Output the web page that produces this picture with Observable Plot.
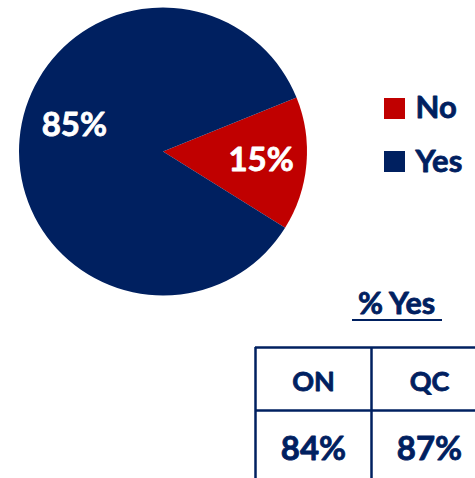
<!DOCTYPE html>
<html><head><meta charset="utf-8">
<script src="https://cdn.jsdelivr.net/npm/d3@7"></script>
<script src="https://cdn.jsdelivr.net/npm/@observablehq/plot@0.6"></script>
<style>html,body{margin:0;padding:0;background:#fff;overflow:hidden}</style>
</head><body><div id="chart"></div>
<script>
// ---- data ----
const categories = ["No", "Yes"];
const shares = [15, 85];
const sliceColors = ["#C00000", "#002060"];
const regions = ["ON", "QC"];
const regionYes = [84, 87];
const tableTitle = "% Yes";

// ---- layout / style ----
const W = 475, H = 478;
const navy = "#002060";
const font = "Lato, 'Open Sans', sans-serif";
const thick = 0.8;
const L = {
  cx: 163, cy: 151.5, r: 144, startDeg: 68,
  labelPos: [{ang: null, r: 98}, {ang: 286.6, r: 93}],
  legX: 384, legSize: 21, legY: [98, 151], legTextX: 415, legBase: [117, 171],
  titleX: 396, titleBase: 313, underY: 319.5, underX1: 352, underX2: 442,
  tabLeft: 255, colW: 116, tabTop: 347, tabMid: 410, tabRight: 475,
  headBase: 390, valBase: 459
};

const pieData = categories.map((c, i) => ({category: c, value: shares[i]}));
const toRad = d => d * Math.PI / 180;
const arcs = d3.pie().sort(null).value(d => d.value)
  .startAngle(toRad(L.startDeg)).endAngle(toRad(L.startDeg + 360))(pieData);

const labels = arcs.map((a, i) => {
  const p = L.labelPos[i];
  const ang = p.ang == null ? (a.startAngle + a.endAngle) / 2 : toRad(p.ang);
  return {text: `${a.data.value}%`, x: L.cx + p.r * Math.sin(ang), y: L.cy - p.r * Math.cos(ang)};
});

const wedges = (index, scales) => {
  const g = d3.create("svg:g");
  const cx = scales.x(L.cx), cy = scales.y(L.cy);
  const rr = scales.x(L.cx + L.r) - cx;
  const arc = d3.arc().innerRadius(0).outerRadius(rr);
  const col = scales.color || (c => sliceColors[categories.indexOf(c)]);
  g.selectAll("path").data(arcs).join("path")
    .attr("transform", `translate(${cx},${cy})`)
    .attr("d", arc)
    .attr("fill", d => col(d.data.category));
  return g.node();
};

const tableRows = regions.map((r, i) => ({region: r, value: regionYes[i], xc: L.tabLeft + L.colW * (i + 0.5)}));

const navyText = {fill: navy, stroke: navy, strokeWidth: thick, fontWeight: "bold"};

const chart = Plot.plot({
  width: W, height: H, margin: 0,
  style: {fontFamily: font, background: "#fff"},
  x: {domain: [0, W], range: [0, W], axis: null},
  y: {domain: [0, H], range: [0, H], axis: null},
  color: {domain: categories, range: sliceColors},
  marks: [
    wedges,
    Plot.text(labels, {x: "x", y: "y", text: "text", fill: "#fff", stroke: "#fff", strokeWidth: thick, fontSize: 33, fontWeight: "bold", textAnchor: "middle", lineAnchor: "middle"}),
    // legend
    Plot.rect(categories, {x1: L.legX, x2: L.legX + L.legSize, y1: (d, i) => L.legY[i], y2: (d, i) => L.legY[i] + L.legSize, fill: d => d}),
    Plot.text(categories, {...navyText, x: L.legTextX, y: (d, i) => L.legBase[i], text: d => d, fontSize: 31, textAnchor: "start", lineAnchor: "bottom"}),
    // table title
    Plot.text([tableTitle], {...navyText, x: L.titleX, y: L.titleBase, text: d => d, fontSize: 30.5, textAnchor: "middle", lineAnchor: "bottom"}),
    Plot.ruleY([L.underY], {x1: L.underX1, x2: L.underX2, stroke: navy, strokeWidth: 2.2}),
    // table grid
    Plot.ruleY([L.tabTop, L.tabMid], {x1: L.tabLeft, x2: L.tabRight, stroke: navy, strokeWidth: 2.5}),
    Plot.ruleX([L.tabLeft, L.tabLeft + L.colW], {y1: L.tabTop, y2: H, stroke: navy, strokeWidth: 2.5}),
    Plot.text(tableRows, {...navyText, x: "xc", y: L.headBase, text: "region", fontSize: 27, textAnchor: "middle", lineAnchor: "bottom"}),
    Plot.text(tableRows, {...navyText, x: "xc", y: L.valBase, text: d => `${d.value}%`, fontSize: 33, textAnchor: "middle", lineAnchor: "bottom"})
  ]
});
document.getElementById("chart").appendChild(chart);
</script>
</body></html>
